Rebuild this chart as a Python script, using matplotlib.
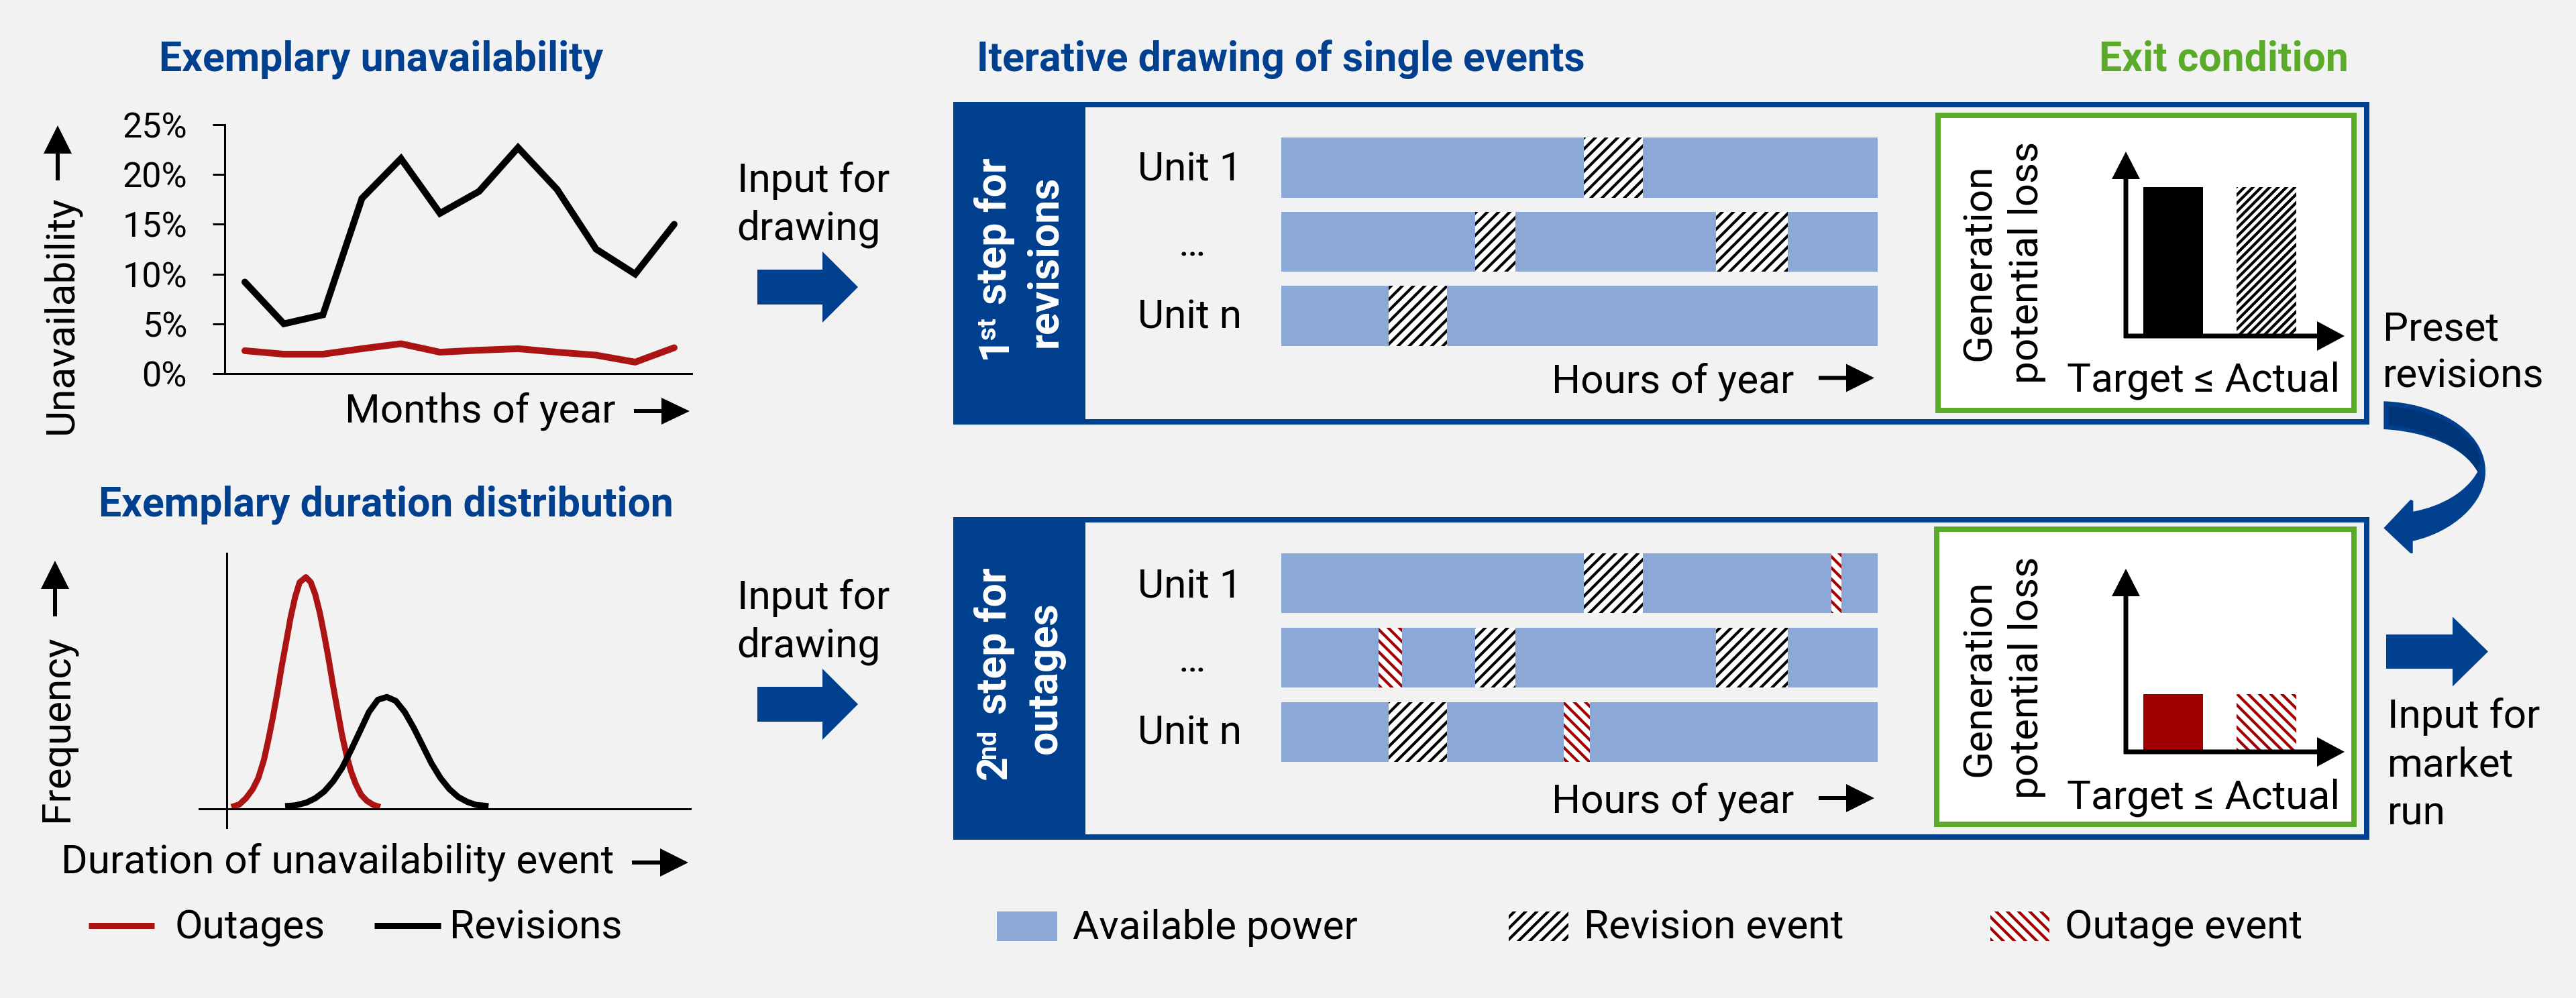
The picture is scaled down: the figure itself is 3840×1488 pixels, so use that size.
import matplotlib
matplotlib.use("Agg")
import matplotlib.pyplot as plt
from matplotlib.patches import Rectangle, Polygon, PathPatch
from matplotlib.path import Path

# ---------------- data ----------------
months = [1, 2, 3, 4, 5, 6, 7, 8, 9, 10, 11, 12]
unavail_revisions = [9.2, 5.0, 5.9, 17.6, 21.6, 16.1, 18.3, 22.7, 18.5, 12.5, 10.0, 15.0]
unavail_outages = [2.3, 1.95, 1.95, 2.5, 3.0, 2.15, 2.35, 2.5, 2.15, 1.85, 1.15, 2.6]
pct_ticks = [0, 5, 10, 15, 20, 25]
pct_labels = ["0%", "5%", "10%", "15%", "20%", "25%"]

dur_outages = [0.7, 1.87, 2.87, 3.87, 4.7, 5.53, 6.2, 6.87, 7.53, 8.2, 8.87, 9.53, 10.2, 10.87, 11.8,
               12.53, 13.2, 13.87, 14.53, 15.2, 15.87, 16.53, 17.2, 17.87, 18.53, 19.2, 20.03, 20.87, 21.87, 22.87]
freq_outages = [0.8, 1.9, 4.6, 8.5, 13.3, 21, 29.7, 39.4, 50, 61.6, 72.2, 82.8, 91.5, 97.8, 100,
                97.8, 92.5, 84.7, 75.1, 64.5, 52.9, 42.3, 31.7, 23, 16.2, 10.9, 6.1, 3.5, 1.7, 0.8]
dur_revisions = [8.7, 10.2, 11.87, 13.2, 14.53, 15.87, 17.2, 18.53, 19.87, 21.2, 22.53, 23.87, 25.2,
                 26.53, 27.87, 29.2, 30.53, 31.87, 33.2, 34.53, 35.87, 37.2, 39.03]
freq_revisions = [1.2, 1.5, 2.7, 4.6, 7.5, 11.9, 17.7, 25.4, 33.6, 41.8, 47.1, 48.3, 46.6,
                  41.8, 35, 27.3, 19.6, 13.3, 8.5, 5.1, 3, 1.7, 1.2]

units = ["Unit 1", "…", "Unit n"]
hours_in_year = 8760
revision_events = [[(4444, 5311)], [(2848, 3439), (6385, 7440)], [(1577, 2434)]]
outage_events = [[(8080, 8228)], [(1429, 1774)], [(4148, 4533)]]

loss_categories = ["Target", "Actual"]
loss_revisions = [80.7, 80.7]
loss_outages = [31.5, 31.5]

# ---------------- style ----------------
W, H, DPI = 3840, 1488, 150
PX = 72 / DPI
BG = "#F2F2F2"
NAVY = "#00408E"
DARK = "#003577"
GREEN = "#5BAA2A"
BARBLUE = "#8CA8D6"
RED = "#A00000"
LRED = "#AC1414"
plt.rcParams["font.family"] = ["Roboto", "DejaVu Sans"]
plt.rcParams["hatch.linewidth"] = 2.0
plt.rcParams["hatch.color"] = "black"
FS = 29
FB = 29.1
HATCH_NE = "///"
HATCH_NW = "\\\\\\"

fig = plt.figure(figsize=(W / DPI, H / DPI), dpi=DPI, facecolor=BG)


def px_axes(x0, y0, x1, y1, z):
    ax = fig.add_axes([x0 / W, 1 - y1 / H, (x1 - x0) / W, (y1 - y0) / H], zorder=z)
    ax.patch.set_alpha(0)
    return ax


back = px_axes(0, 0, W, H, 0)
back.set_xlim(0, W); back.set_ylim(H, 0); back.axis("off")
front = px_axes(0, 0, W, H, 3)
front.set_xlim(0, W); front.set_ylim(H, 0); front.axis("off")


def T(x, y, s, size=FS, color="black", weight="normal", rot=0, ha="left"):
    front.text(x, y, s, fontsize=size, color=color, fontweight=weight, rotation=rot,
               rotation_mode="anchor", ha=ha, va="baseline")


def arrow(x0, y0, x1, y1, hl, hw, sw, color="black", ax=front):
    """Block arrow from (x0,y0) to tip (x1,y1), in pixels."""
    if y0 == y1:
        s = 1 if x1 > x0 else -1
        pts = [(x0, y0 - sw), (x1 - s * hl, y0 - sw), (x1 - s * hl, y0 - hw), (x1, y1),
               (x1 - s * hl, y0 + hw), (x1 - s * hl, y0 + sw), (x0, y0 + sw)]
    else:
        s = 1 if y1 > y0 else -1
        pts = [(x0 - sw, y0), (x0 - sw, y1 - s * hl), (x0 - hw, y1 - s * hl), (x1, y1),
               (x0 + hw, y1 - s * hl), (x0 + sw, y1 - s * hl), (x0 + sw, y0)]
    ax.add_patch(Polygon(pts, closed=True, facecolor=color, edgecolor="none"))


# ---------------- top-left line chart ----------------
ax = px_axes(335, 186, 1031, 557, 1)
ax.plot(months, unavail_revisions, color="black", lw=10 * PX, solid_joinstyle="miter", solid_capstyle="round")
ax.plot(months, unavail_outages, color=LRED, lw=10 * PX, solid_joinstyle="round", solid_capstyle="round")
ax.set_xlim(0.485, 12.447)
ax.set_ylim(0, 25)
ax.set_yticks(pct_ticks)
ax.set_yticklabels(pct_labels, fontsize=25)
ax.set_xticks([])
ax.tick_params(axis="y", length=18 * PX, width=3 * PX, pad=38 * PX)
for s in ["top", "right"]:
    ax.spines[s].set_visible(False)
for s in ["left", "bottom"]:
    ax.spines[s].set_linewidth(3 * PX)

T(237, 106, "Exemplary unavailability", FB, NAVY, "bold")
T(514, 629, "Months of year")
arrow(945, 613, 1028, 613, 42, 20, 3)
T(107, 647, "Unavailability", rot=90)
arrow(86, 269, 86, 187, 42, 21, 3)

# ---------------- bottom-left distribution chart ----------------
ax = px_axes(297, 825, 1029, 1234, 1)
ax.plot(dur_outages, freq_outages, color=LRED, lw=9 * PX, solid_capstyle="butt")
ax.plot(dur_revisions, freq_revisions, color="black", lw=9 * PX, solid_capstyle="butt")
ax.set_xlim(-4.1, 69.1)
ax.set_ylim(-8.1, 110.3)
ax.set_xticks([]); ax.set_yticks([])
for s in ["top", "right"]:
    ax.spines[s].set_visible(False)
for s in ["left", "bottom"]:
    ax.spines[s].set_linewidth(3 * PX)
    ax.spines[s].set_position(("data", 0))

T(147, 769, "Exemplary duration distribution", FB, NAVY, "bold")
T(91, 1302, "Duration of unavailability event")
arrow(942, 1286, 1026, 1286, 42, 21, 3)
T(100, 1225, "Frequency", rot=90)
arrow(82, 919, 82, 836, 42, 21, 3)

front.plot([132, 230], [1380, 1380], color=LRED, lw=9 * PX, solid_capstyle="butt")
T(261, 1400, "Outages")
front.plot([558, 657], [1380, 1380], color="black", lw=9 * PX, solid_capstyle="butt")
T(670, 1400, "Revisions")

# ---------------- input arrows ----------------
for by1, by2, ay, hw_top in [(286, 358, 428, 53), (908, 980, 1050, 53)]:
    T(1099, by1, "Input for")
    T(1098, by2, "drawing")
    arrow(1129, ay, 1279, ay, 53, hw_top, 26, NAVY)

# ---------------- titles ----------------
T(1456, 106, "Iterative drawing of single events", FB, NAVY, "bold")
T(3129, 106, "Exit condition", FB, GREEN, "bold")


# ---------------- panels ----------------
def frame(x0, y0, x1, y1, header_right):
    b = 8
    back.add_patch(Rectangle((x0, y0), x1 - x0, y1 - y0, fc=BG, ec="none"))
    for r in [(x0, y0, x1 - x0, b), (x0, y1 - b, x1 - x0, b), (x1 - b, y0, b, y1 - y0),
              (x0, y0, header_right - x0, y1 - y0)]:
        back.add_patch(Rectangle((r[0], r[1]), r[2], r[3], fc=NAVY, ec="none"))


def green_box(x0, y0, x1, y1):
    back.add_patch(Rectangle((x0 + 4, y0 + 4), x1 - x0 - 8, y1 - y0 - 8, fc="white", ec=GREEN, lw=8 * PX,
                             joinstyle="miter"))


def gantt(y0, y1, height, with_outages):
    ax = px_axes(1910, y0, 2799, y1, 1)
    for i, u in enumerate(units):
        ax.barh(i, hours_in_year, height=height, color=BARBLUE, linewidth=0)
        for a, b in revision_events[i]:
            ax.barh(i, b - a, left=a, height=height, color="white", edgecolor="black", hatch=HATCH_NE, linewidth=0)
        if with_outages:
            for a, b in outage_events[i]:
                ax.barh(i, b - a, left=a, height=height, color="white", edgecolor=RED, hatch=HATCH_NW, linewidth=0)
    ax.set_xlim(0, hours_in_year)
    ax.set_ylim(2 + height / 2, -height / 2)
    ax.axis("off")


def loss_chart(y0, y1, vals, solid, hatch_col, hatch):
    ax = px_axes(3169, y0, 3495, y1, 1)
    ax.bar([0, 1], vals, width=0.64, color=[solid, "white"], edgecolor=[solid, hatch_col],
           hatch=[None, hatch], linewidth=0)
    ax.set_xlim(-0.507, 1.838)
    ax.set_ylim(0, 100)
    ax.axis("off")
    arrow(3169, y1 + 3, 3169, y0, 41, 21, 3.5)
    arrow(3166, y1, 3495, y1, 41, 22, 3.5)


def rot_header(base1, y_num, num, x_sup, y_sup, sup, y_rest, line2, yc2):
    T(base1, y_num, num, 30, "white", "bold", 90)
    T(x_sup, y_sup, sup, 18.5, "white", "bold", 90)
    T(base1, y_rest, "step for", 30, "white", "bold", 90)
    T(1575, yc2, line2, 30, "white", "bold", 90, ha="center")


# panel 1
frame(1421, 152, 3532, 633, 1618)
green_box(2885, 168, 3513, 616)
gantt(205, 516, 0.81, False)
loss_chart(226, 501, loss_revisions, "black", "black", "////")
rot_header(1500, 535, "1", 1484, 506, "st", 454, "revisions", 390)
T(1696, 270, units[0]); T(1757, 382, units[1]); T(1696, 490, units[2])
T(2313, 585, "Hours of year")
arrow(2711, 563.5, 2794, 563.5, 42, 21, 3)
T(2967, 391, "Generation", rot=90, ha="center")
T(3038, 391, "potential loss", rot=90, ha="center")
T(3081, 584, "Target ≤ Actual")

# panel 2
frame(1421, 771, 3532, 1252, 1618)
green_box(2883, 785, 3513, 1233)
gantt(825, 1136, 0.8, True)
loss_chart(848, 1121, loss_outages, RED, RED, HATCH_NW)
rot_header(1500, 1162, "2", 1484, 1131, "nd", 1065, "outages", 1011)
T(1696, 891, units[0]); T(1757, 1001, units[1]); T(1696, 1110, units[2])
T(2313, 1212, "Hours of year")
arrow(2711, 1190, 2794, 1190, 42, 21, 3)
T(2967, 1011, "Generation", rot=90, ha="center")
T(3038, 1010, "potential loss", rot=90, ha="center")
T(3081, 1206, "Target ≤ Actual")

# ---------------- right side ----------------
T(3552, 507, "Preset")
T(3552, 578, "revisions")
T(3559, 1085, "Input for")
T(3559, 1157, "market")
T(3559, 1230, "run")
arrow(3557, 971.5, 3709, 971.5, 53, 52, 25.5, NAVY)


def cz(x, y):
    return (3540 + x / 3, 580 + y / 3)


verts = [cz(40, 55),
         cz(250, 60), cz(495, 170), cz(495, 370),
         cz(495, 510), cz(350, 640), cz(170, 680),
         cz(170, 735), cz(160, 735), cz(40, 622), cz(160, 495), cz(172, 500), cz(172, 548),
         cz(300, 525), cz(410, 460), cz(460, 370),
         cz(400, 260), cz(230, 190), cz(40, 180),
         cz(40, 55)]
codes = [Path.MOVETO, Path.CURVE4, Path.CURVE4, Path.CURVE4, Path.CURVE4, Path.CURVE4, Path.CURVE4,
         Path.LINETO, Path.LINETO, Path.LINETO, Path.LINETO, Path.LINETO, Path.LINETO,
         Path.CURVE4, Path.CURVE4, Path.CURVE4, Path.CURVE4, Path.CURVE4, Path.CURVE4,
         Path.CLOSEPOLY]
front.add_patch(PathPatch(Path(verts, codes), fc=NAVY, ec="none"))
dverts = [cz(62, 78), cz(250, 85), cz(470, 190), cz(472, 330), cz(462, 345), cz(462, 370), cz(460, 370),
          cz(400, 262), cz(230, 175), cz(62, 162), cz(62, 78)]
dcodes = [Path.MOVETO, Path.CURVE4, Path.CURVE4, Path.CURVE4, Path.LINETO, Path.LINETO, Path.LINETO,
          Path.CURVE4, Path.CURVE4, Path.CURVE4, Path.CLOSEPOLY]
front.add_patch(PathPatch(Path(dverts, dcodes), fc=DARK, ec="none"))

# ---------------- bottom legend ----------------
front.add_patch(Rectangle((1486, 1359), 90, 44, fc=BARBLUE, ec="none"))
T(1599, 1400, "Available power")
front.add_patch(Rectangle((2249, 1359), 89, 44, fc="white", ec="black", hatch=HATCH_NE, lw=0))
T(2361, 1400, "Revision event")
front.add_patch(Rectangle((2967, 1359), 88, 44, fc="white", ec=RED, hatch=HATCH_NW, lw=0))
T(3078, 1400, "Outage event")

fig.savefig("out.png", dpi=DPI, facecolor=BG)
